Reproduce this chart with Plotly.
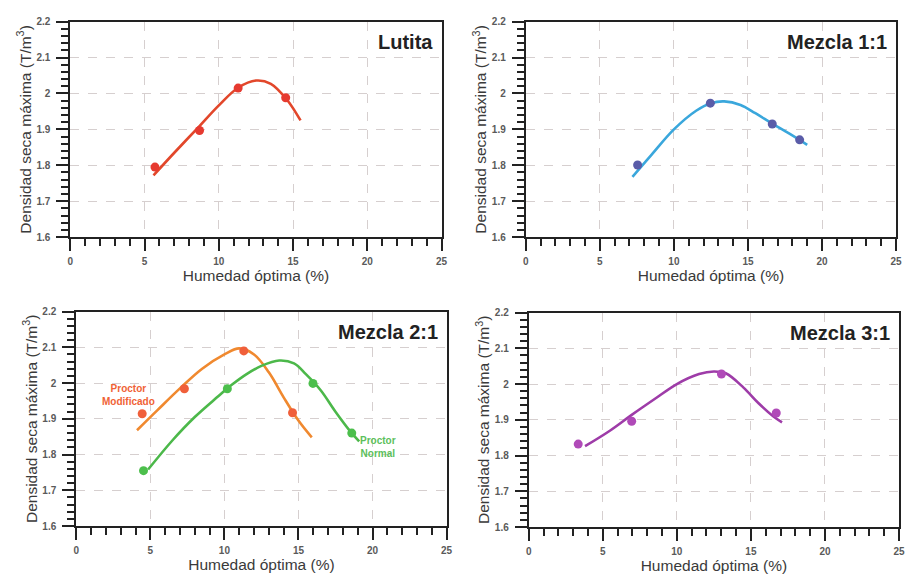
import plotly.graph_objects as go
from plotly.subplots import make_subplots

# ---------------- data ----------------
x_ticks = [0, 5, 10, 15, 20, 25]
x_ticktext = ["0", "5", "10", "15", "20", "25"]
y_ticks = [1.6, 1.7, 1.8, 1.9, 2.0, 2.1, 2.2]
y_ticktext = ["1.6", "1.7", "1.8", "1.9", "2", "2.1", "2.2"]

panel_titles = ["Lutita", "Mezcla 1:1", "Mezcla 2:1", "Mezcla 3:1"]

# Lutita
lut_pts_x = [5.7, 8.7, 11.3, 14.5]
lut_pts_y = [1.795, 1.897, 2.015, 1.988]
lut_cur_x = [5.6, 7.0, 8.6, 10.0, 11.3, 12.5, 13.5, 14.6, 15.5]
lut_cur_y = [1.772, 1.835, 1.905, 1.967, 2.016, 2.036, 2.027, 1.982, 1.925]

# Mezcla 1:1
m11_pts_x = [7.55, 12.46, 16.64, 18.49]
m11_pts_y = [1.801, 1.973, 1.915, 1.871]
m11_cur_x = [7.2, 8.5, 10.0, 11.5, 12.5, 13.4, 14.5, 15.5, 16.6, 17.8, 19.0]
m11_cur_y = [1.768, 1.83, 1.9, 1.952, 1.973, 1.978, 1.968, 1.945, 1.917, 1.888, 1.857]

# Mezcla 2:1 - Proctor Modificado
m21m_pts_x = [4.45, 7.3, 11.31, 14.6]
m21m_pts_y = [1.914, 1.984, 2.09, 1.917]
m21m_cur_x = [4.1, 5.5, 7.0, 8.5, 10.0, 11.0, 12.0, 13.0, 14.0, 15.0, 15.9]
m21m_cur_y = [1.868, 1.925, 1.985, 2.04, 2.08, 2.097, 2.08, 2.03, 1.96, 1.895, 1.848]

# Mezcla 2:1 - Proctor Normal
m21n_pts_x = [4.54, 10.2, 15.98, 18.6]
m21n_pts_y = [1.755, 1.984, 1.999, 1.86]
m21n_cur_x = [4.85, 6.5, 8.0, 9.5, 10.5, 11.5, 12.5, 13.7, 14.7, 15.5, 16.5, 17.5, 18.5, 19.1]
m21n_cur_y = [1.758, 1.84, 1.905, 1.96, 1.995, 2.025, 2.048, 2.063, 2.055, 2.025, 1.98, 1.92, 1.865, 1.837]

# Mezcla 3:1
m31_pts_x = [3.34, 6.95, 13.01, 16.71]
m31_pts_y = [1.832, 1.896, 2.028, 1.919]
m31_cur_x = [3.8, 5.5, 7.0, 8.5, 10.0, 11.5, 12.5, 13.3, 14.5, 15.5, 16.5, 17.1]
m31_cur_y = [1.826, 1.87, 1.915, 1.958, 2.0, 2.028, 2.035, 2.03, 1.99, 1.947, 1.91, 1.893]

# ---------------- figure ----------------
W, H = 910, 581
fig = make_subplots(rows=2, cols=2)

def add_series(row, col, cx, cy, px, py, line_color, marker_color):
    fig.add_trace(go.Scatter(x=cx, y=cy, mode="lines",
                             line=dict(color=line_color, width=2.6, shape="spline", smoothing=1.0),
                             hoverinfo="skip", showlegend=False), row=row, col=col)
    fig.add_trace(go.Scatter(x=px, y=py, mode="markers",
                             marker=dict(color=marker_color, size=9),
                             cliponaxis=False, showlegend=False), row=row, col=col)

add_series(1, 1, lut_cur_x, lut_cur_y, lut_pts_x, lut_pts_y, "#e2472b", "#e63a30")
add_series(1, 2, m11_cur_x, m11_cur_y, m11_pts_x, m11_pts_y, "#3aa7dc", "#5a5ca8")
add_series(2, 1, m21m_cur_x, m21m_cur_y, m21m_pts_x, m21m_pts_y, "#f0892f", "#f05f3a")
add_series(2, 1, m21n_cur_x, m21n_cur_y, m21n_pts_x, m21n_pts_y, "#4cb84a", "#4cbf4c")
add_series(2, 2, m31_cur_x, m31_cur_y, m31_pts_x, m31_pts_y, "#9e3ca8", "#b04ab8")

# plot areas in pixels: (left, right, top, bottom)
boxes = [(68, 443, 16, 236), (528, 902, 16, 236), (74, 448, 312, 531), (531, 905, 313, 532)]
axis_names = [("xaxis", "yaxis"), ("xaxis2", "yaxis2"), ("xaxis3", "yaxis3"), ("xaxis4", "yaxis4")]

font_fam = "Liberation Sans, Arial, sans-serif"
axis_col = "#222222"
grid_col = "#d6cfcf"

for (l, r, t, b), (xa, ya), title in zip(boxes, axis_names, panel_titles):
    fig.layout[xa].update(
        domain=[l / W, r / W], range=[0, 25], autorange=False,
        tickmode="array", tickvals=x_ticks, ticktext=["<b>%s</b>" % s for s in x_ticktext],
        ticks="outside", ticklen=12, tickwidth=2, tickcolor=axis_col,
        minor=dict(tickmode="linear", tick0=0, dtick=1, ticks="outside", ticklen=7,
                   tickwidth=1.6, tickcolor=axis_col, showgrid=False),
        showline=True, linewidth=2, linecolor=axis_col, mirror=True,
        showgrid=True, gridcolor=grid_col, griddash="dash", gridwidth=1,
        zeroline=False,
        tickfont=dict(family=font_fam, size=10, color="#5a5a5a"),
        ticklabelstandoff=2,
        title=dict(text="Humedad óptima (%)", font=dict(family=font_fam, size=15.5, color="#3a3a3a"),
                   standoff=0),
    )
    fig.layout[ya].update(
        domain=[1 - b / H, 1 - t / H], range=[1.6, 2.2], autorange=False,
        tickmode="array", tickvals=y_ticks, ticktext=["<b>%s</b>" % s for s in y_ticktext],
        ticks="outside", ticklen=12, tickwidth=2, tickcolor=axis_col,
        minor=dict(tickmode="linear", tick0=1.6, dtick=0.02, ticks="outside", ticklen=7,
                   tickwidth=1.6, tickcolor=axis_col, showgrid=False),
        showline=True, linewidth=2, linecolor=axis_col, mirror=True,
        showgrid=True, gridcolor=grid_col, griddash="dash", gridwidth=1,
        zeroline=False,
        tickfont=dict(family=font_fam, size=10, color="#5a5a5a"),
        ticklabelstandoff=4,
        title=dict(text="Densidad seca máxima (T/m<sup>3</sup>)",
                   font=dict(family=font_fam, size=15.5, color="#3a3a3a"), standoff=1),
    )
    fig.add_annotation(x=(r - 7) / W, y=1 - (t + 21) / H, xref="paper", yref="paper",
                       xanchor="right", yanchor="middle", showarrow=False,
                       text="<b>%s</b>" % title,
                       font=dict(family=font_fam, size=20, color="#222222"))

# labels for the two Proctor curves
fig.add_annotation(x=3.55, y=1.967, xref="x3", yref="y3", showarrow=False,
                   text="<b>Proctor<br>Modificado</b>",
                   font=dict(family=font_fam, size=10, color="#f06235"))
fig.add_annotation(x=20.4, y=1.822, xref="x3", yref="y3", showarrow=False,
                   text="<b>Proctor<br>Normal</b>",
                   font=dict(family=font_fam, size=10, color="#5cbf5c"))

fig.update_layout(width=W, height=H, margin=dict(l=0, r=0, t=0, b=0),
                  paper_bgcolor="white", plot_bgcolor="white", showlegend=False)

fig.write_html("out.html", config={"displayModeBar": False},
               post_script="document.body.style.margin='0px';document.body.style.padding='0px';")
